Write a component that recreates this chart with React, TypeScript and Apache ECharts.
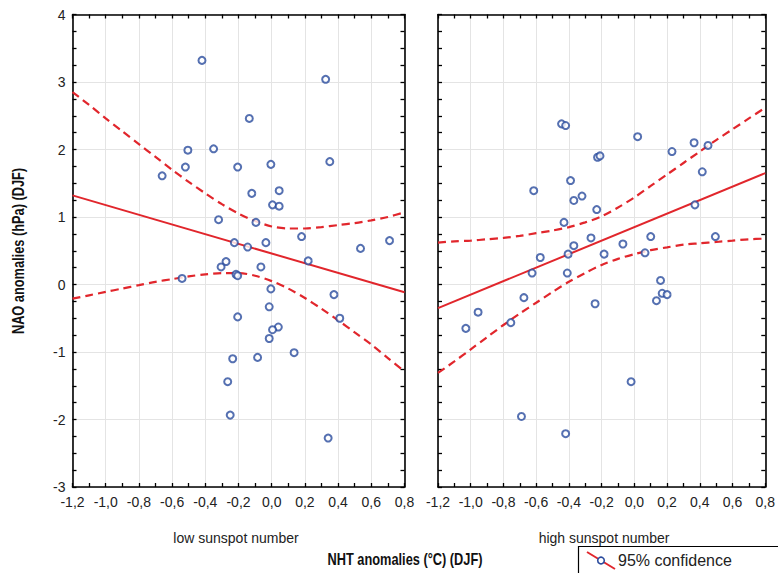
import React, { useEffect, useRef } from "react";
import * as echarts from "echarts";

// ---- data ----
const xTicks = [-1.2, -1.0, -0.8, -0.6, -0.4, -0.2, 0.0, 0.2, 0.4, 0.6, 0.8];
const yTicks = [-3, -2, -1, 0, 1, 2, 3, 4];

const lowPoints: [number, number][] = [
  [-0.42, 3.32], [0.325, 3.04], [-0.135, 2.46], [-0.505, 1.99], [-0.35, 2.01],
  [0.35, 1.82], [-0.66, 1.61], [-0.52, 1.74], [-0.205, 1.74], [-0.005, 1.78],
  [-0.12, 1.35], [0.045, 1.39], [0.005, 1.18], [0.045, 1.16], [-0.32, 0.96],
  [-0.095, 0.92], [0.18, 0.71], [-0.225, 0.62], [-0.145, 0.555], [-0.035, 0.62],
  [0.535, 0.535], [0.71, 0.65], [0.22, 0.35], [-0.275, 0.34], [-0.305, 0.26],
  [-0.065, 0.26], [-0.215, 0.15], [-0.205, 0.13], [-0.54, 0.09], [-0.005, -0.065],
  [0.375, -0.15], [-0.015, -0.33], [-0.205, -0.48], [0.41, -0.5], [0.04, -0.63],
  [0.005, -0.67], [-0.015, -0.8], [0.135, -1.01], [-0.235, -1.1], [-0.085, -1.08],
  [-0.265, -1.44], [-0.25, -1.935], [0.34, -2.275],
];

const highPoints: [number, number][] = [
  [-0.445, 2.38], [-0.42, 2.355], [0.02, 2.19], [0.365, 2.1], [0.45, 2.06],
  [0.23, 1.97], [-0.225, 1.885], [-0.21, 1.905], [0.415, 1.67], [-0.39, 1.54],
  [-0.615, 1.39], [-0.32, 1.31], [-0.37, 1.245], [0.37, 1.18], [-0.23, 1.11],
  [-0.43, 0.92], [-0.265, 0.69], [0.1, 0.71], [0.495, 0.71], [-0.37, 0.575],
  [-0.07, 0.6], [-0.575, 0.4], [-0.405, 0.45], [-0.185, 0.45], [0.065, 0.47],
  [-0.625, 0.17], [-0.41, 0.17], [0.16, 0.06], [0.17, -0.13], [0.2, -0.15],
  [0.135, -0.24], [-0.24, -0.285], [-0.675, -0.195], [-0.955, -0.41], [-1.03, -0.65],
  [-0.755, -0.565], [-0.02, -1.44], [-0.69, -1.955], [-0.42, -2.21],
];

const fitX = [-1.2, 0.8];
const lowFit = [1.32, -0.115];
const highFit = [-0.35, 1.65];

const bandX = [-1.2, -1.1, -1.0, -0.9, -0.8, -0.7, -0.6, -0.5, -0.4, -0.3, -0.2, -0.1, 0.0, 0.1, 0.2, 0.3, 0.4, 0.5, 0.6, 0.7, 0.8];
const lowUpper = [2.85, 2.66, 2.46, 2.27, 2.08, 1.89, 1.7, 1.52, 1.35, 1.19, 1.05, 0.94, 0.86, 0.83, 0.83, 0.85, 0.88, 0.91, 0.95, 1.0, 1.07];
const lowLower = [-0.21, -0.16, -0.11, -0.06, -0.01, 0.04, 0.08, 0.12, 0.15, 0.17, 0.17, 0.13, 0.05, -0.06, -0.2, -0.36, -0.53, -0.71, -0.89, -1.09, -1.29];
const highUpper = [0.62, 0.64, 0.65, 0.67, 0.69, 0.72, 0.76, 0.8, 0.85, 0.92, 1.01, 1.14, 1.29, 1.46, 1.63, 1.8, 1.97, 2.14, 2.3, 2.46, 2.62];
const highLower = [-1.31, -1.14, -0.96, -0.78, -0.6, -0.43, -0.27, -0.11, 0.04, 0.17, 0.29, 0.38, 0.45, 0.51, 0.55, 0.59, 0.61, 0.63, 0.65, 0.67, 0.68];

const panelLabels = ["low sunspot number", "high sunspot number"];
const xTitle = "NHT anomalies (°C) (DJF)";
const yTitle = "NAO anomalies (hPa) (DJF)";
const legendText = "95% confidence";

// ---- styling ----
const FONT = "'Liberation Sans', Arial, sans-serif";
const RED = "#e1262c";
const BLUE = "#2b4c9e";
const TXT = "#222";

const zip = (xs: number[], ys: number[]) => xs.map((x, i) => [x, ys[i]]);

export default function App() {
  const ref = useRef<HTMLDivElement>(null);

  useEffect(() => {
    if (!ref.current) return;
    const chart = echarts.init(ref.current, undefined, { renderer: "svg" });

    const grids = [
      { left: 72.5, top: 14.5, width: 332, height: 472.5 },
      { left: 438, top: 14.5, width: 332, height: 472.5 },
    ];

    const fmtX = (v: number) => v.toFixed(1).replace(".", ",");

    const xAxes: any[] = [];
    const yAxes: any[] = [];
    [0, 1].forEach((g) => {
      const tickCommon = {
        axisTick: { show: true, inside: true, length: 4, lineStyle: { color: "#000", width: 1.3 } },
        minorTick: { show: true, length: 4, lineStyle: { color: "#000", width: 1.3 } },
        axisLine: { show: true, onZero: false, lineStyle: { color: "#000", width: 1.6 } },
      };
      xAxes.push({
        type: "value", gridIndex: g, position: "bottom", min: xTicks[0], max: xTicks[xTicks.length - 1], interval: 0.2,
        ...tickCommon,
        minorTick: { ...tickCommon.minorTick, splitNumber: 2 },
        splitLine: { show: true, lineStyle: { color: "#e4e4e4", width: 1 } },
        axisLabel: { show: true, formatter: fmtX, color: TXT, fontFamily: FONT, fontSize: 14, margin: 8,
          showMinLabel: true, showMaxLabel: true },
      });
      xAxes.push({
        type: "value", gridIndex: g, position: "top", min: xTicks[0], max: xTicks[xTicks.length - 1], interval: 0.2,
        ...tickCommon,
        minorTick: { ...tickCommon.minorTick, splitNumber: 2 },
        splitLine: { show: false },
        axisLabel: { show: false },
      });
      yAxes.push({
        type: "value", gridIndex: g, position: "left", min: yTicks[0], max: yTicks[yTicks.length - 1], interval: 1,
        ...tickCommon,
        minorTick: { ...tickCommon.minorTick, splitNumber: 4 },
        splitLine: { show: true, lineStyle: { color: "#e4e4e4", width: 1 } },
        axisLabel: { show: g === 0, color: TXT, fontFamily: FONT, fontSize: 14, margin: 7 },
      });
      yAxes.push({
        type: "value", gridIndex: g, position: "right", min: yTicks[0], max: yTicks[yTicks.length - 1], interval: 1,
        ...tickCommon,
        minorTick: { ...tickCommon.minorTick, splitNumber: 4 },
        splitLine: { show: false },
        axisLabel: { show: false },
      });
    });

    const series: any[] = [];
    const panels = [
      { pts: lowPoints, fit: lowFit, up: lowUpper, lo: lowLower },
      { pts: highPoints, fit: highFit, up: highUpper, lo: highLower },
    ];
    panels.forEach((p, g) => {
      const xi = g * 2;
      const yi = g * 2;
      series.push({
        type: "line", xAxisIndex: xi, yAxisIndex: yi, data: zip(bandX, p.up), showSymbol: false,
        smooth: 0.3, clip: true, lineStyle: { color: RED, width: 2.2, type: [8, 5] }, z: 3,
      });
      series.push({
        type: "line", xAxisIndex: xi, yAxisIndex: yi, data: zip(bandX, p.lo), showSymbol: false,
        smooth: 0.3, clip: true, lineStyle: { color: RED, width: 2.2, type: [8, 5] }, z: 3,
      });
      series.push({
        type: "line", xAxisIndex: xi, yAxisIndex: yi, data: zip(fitX, p.fit), showSymbol: false,
        clip: true, lineStyle: { color: RED, width: 2 }, z: 3,
      });
      series.push({
        type: "scatter", xAxisIndex: xi, yAxisIndex: yi, data: p.pts, symbol: "emptyCircle", symbolSize: 7,
        itemStyle: { color: BLUE, borderColor: BLUE, borderWidth: 1.6 }, z: 4,
      });
    });

    chart.setOption({
      animation: false,
      backgroundColor: "#fff",
      grid: grids,
      xAxis: xAxes,
      yAxis: yAxes,
      series,
      graphic: [
        {
          type: "text", x: 18, y: 251, rotation: Math.PI / 2, scaleX: 0.8,
          style: { text: yTitle, fill: "#111", font: `bold 16px ${FONT}`, align: "center", verticalAlign: "middle" },
        },
        {
          type: "text", x: 236, y: 538,
          style: { text: panelLabels[0], fill: TXT, font: `14px ${FONT}`, align: "center", verticalAlign: "middle" },
        },
        {
          type: "text", x: 604, y: 538,
          style: { text: panelLabels[1], fill: TXT, font: `14px ${FONT}`, align: "center", verticalAlign: "middle" },
        },
        {
          type: "text", x: 405, y: 559, scaleX: 0.8,
          style: { text: xTitle, fill: "#111", font: `bold 16px ${FONT}`, align: "center", verticalAlign: "middle" },
        },
        {
          type: "rect", shape: { x: 578.5, y: 546.5, width: 220, height: 40 },
          style: { fill: "#fff", stroke: "#000", lineWidth: 1.2 },
        },
        {
          type: "line", shape: { x1: 587, y1: 552, x2: 615, y2: 569 },
          style: { stroke: RED, lineWidth: 2 },
        },
        {
          type: "circle", shape: { cx: 601, cy: 560.5, r: 3.3 },
          style: { fill: "#fff", stroke: BLUE, lineWidth: 1.6 },
        },
        {
          type: "text", x: 618, y: 560,
          style: { text: legendText, fill: TXT, font: `16px ${FONT}`, align: "left", verticalAlign: "middle" },
        },
      ],
    });

    return () => chart.dispose();
  }, []);

  return (
    <div
      ref={ref}
      style={{ position: "fixed", left: 0, top: 0, width: 778, height: 573, background: "#fff" }}
    />
  );
}
